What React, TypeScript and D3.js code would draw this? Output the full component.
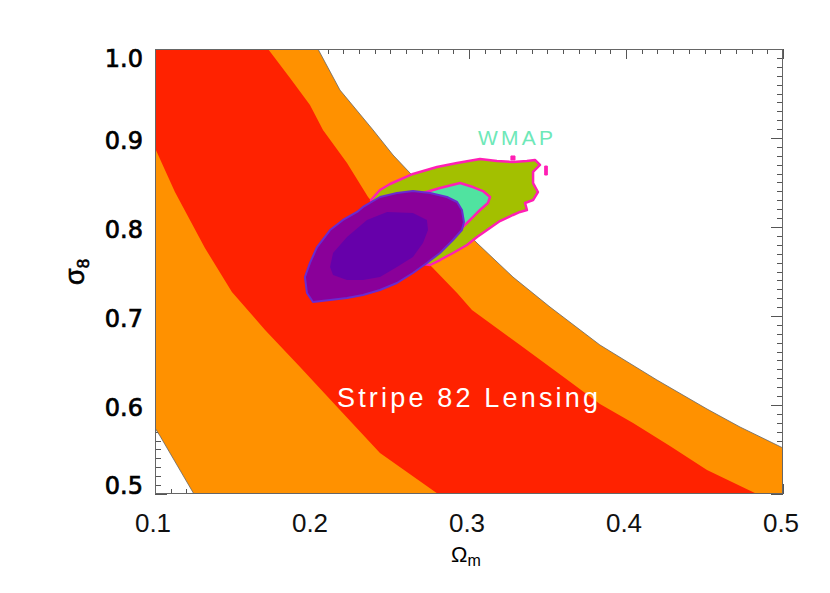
import React from 'react';
import * as d3 from 'd3';

type P = [number, number];

const W = 830;
const H = 593;
const PLOT = { left: 155, top: 49, right: 783, bottom: 494 };

const X_DOMAIN: P = [0.1, 0.5];
const Y_DOMAIN: P = [0.5, 1.0];
const xTickLabels = [0.1, 0.2, 0.3, 0.4, 0.5];
const yTickLabels = [0.5, 0.6, 0.7, 0.8, 0.9, 1.0];

// Stripe 82 lensing, 95% region: upper-right edge and lower-left edge
const lensOuterUpper: P[] = [
  [0.2038, 1.0], [0.2178, 0.9539], [0.2389, 0.909], [0.2516, 0.8809], [0.2624, 0.8607],
  [0.2815, 0.8247], [0.3051, 0.782], [0.328, 0.7438], [0.3516, 0.7101], [0.3834, 0.6674],
  [0.4197, 0.6281], [0.4516, 0.5955], [0.4726, 0.5753], [0.5, 0.5517],
];
const lensOuterLower: P[] = [
  [0.1, 0.5742], [0.1032, 0.5652], [0.1248, 0.5],
];
// Stripe 82 lensing, 68% region
const lensInnerUpper: P[] = [
  [0.172, 1.0], [0.186, 0.9674], [0.1987, 0.9371], [0.207, 0.909], [0.2223, 0.8719],
  [0.2357, 0.8337], [0.2561, 0.791], [0.2764, 0.7551], [0.2924, 0.7258], [0.3019, 0.7067],
  [0.3325, 0.6674], [0.3611, 0.6303], [0.3834, 0.6011], [0.4045, 0.5798], [0.428, 0.5539],
  [0.4516, 0.527], [0.4834, 0.5],
];
const lensInnerLower: P[] = [
  [0.1, 0.8888], [0.1127, 0.8393], [0.1318, 0.7764], [0.149, 0.727], [0.1701, 0.6843],
  [0.1924, 0.6427], [0.2178, 0.5944], [0.2433, 0.5461], [0.2803, 0.5],
];

// WMAP contours
const wmapOuter: P[] = [
  [0.2376, 0.8303], [0.2433, 0.8416], [0.2497, 0.8483], [0.2643, 0.8596], [0.2796, 0.8674],
  [0.2924, 0.8719], [0.307, 0.8764], [0.3178, 0.8742], [0.328, 0.873], [0.3369, 0.8742],
  [0.342, 0.8753], [0.3452, 0.8697], [0.3408, 0.8618], [0.3408, 0.8494], [0.3439, 0.8393],
  [0.3408, 0.8303], [0.3357, 0.827], [0.3369, 0.8191], [0.3325, 0.8169], [0.328, 0.8135],
  [0.3197, 0.8067], [0.3115, 0.7966], [0.3051, 0.7888], [0.2987, 0.7798], [0.2898, 0.7708],
  [0.2815, 0.7629], [0.2752, 0.7573], [0.2624, 0.7607], [0.2497, 0.7798], [0.2401, 0.8079],
];
const wmapIslandA: P[] = [[0.3267, 0.8798], [0.3293, 0.8798], [0.3293, 0.8753], [0.3267, 0.8753]];
const wmapIslandB: P[] = [[0.3482, 0.8685], [0.3499, 0.8685], [0.3499, 0.8584], [0.3482, 0.8584]];
const wmapInner: P[] = [
  [0.2707, 0.8382], [0.2815, 0.8438], [0.2943, 0.8494], [0.3025, 0.8449], [0.3089, 0.8404],
  [0.3134, 0.8337], [0.3121, 0.827], [0.307, 0.8191], [0.3025, 0.8112], [0.2987, 0.8045],
  [0.2955, 0.7989], [0.2847, 0.791], [0.272, 0.8022], [0.2656, 0.8247],
];

// Combined contours
const combOuter: P[] = [
  [0.2325, 0.8225], [0.2433, 0.8337], [0.2541, 0.8382], [0.2643, 0.8404], [0.2752, 0.8382],
  [0.286, 0.8337], [0.2924, 0.8281], [0.2955, 0.8191], [0.2968, 0.8056], [0.2955, 0.7966],
  [0.2898, 0.7854], [0.2815, 0.7708], [0.2732, 0.7596], [0.2643, 0.7483], [0.2541, 0.7371],
  [0.2433, 0.7292], [0.2325, 0.7236], [0.2223, 0.7202], [0.2115, 0.718], [0.2006, 0.7157],
  [0.1968, 0.7258], [0.1955, 0.7438], [0.1987, 0.7596], [0.2032, 0.7775], [0.2115, 0.7966],
  [0.2197, 0.8079], [0.2287, 0.8169],
];
const combInner: P[] = [
  [0.2115, 0.7551], [0.2134, 0.7708], [0.2223, 0.7888], [0.235, 0.8079], [0.2478, 0.8169],
  [0.2643, 0.8157], [0.2732, 0.8079], [0.2739, 0.7966], [0.2707, 0.782], [0.2643, 0.7663],
  [0.2541, 0.7551], [0.2433, 0.7438], [0.2325, 0.7404], [0.2223, 0.7404], [0.2134, 0.7461],
];

const COLORS = {
  orange: '#ff9100',
  red: '#ff2200',
  green: '#a3c000',
  aqua: '#50e3a0',
  magenta: '#ff1fb4',
  purple: '#8a0099',
  violet: '#6600aa',
  purpleEdge: '#6a2bd0',
  wmapText: '#6ee8b8',
};

export default function App() {
  const x = d3.scaleLinear().domain(X_DOMAIN).range([PLOT.left, PLOT.right]);
  const y = d3.scaleLinear().domain(Y_DOMAIN).range([PLOT.bottom, PLOT.top]);
  const line = d3.line<P>().x((d) => x(d[0])).y((d) => y(d[1])).curve(d3.curveLinear);
  const closed = (pts: P[]) => (line(pts) || '') + 'Z';

  const [xMin, xMax] = X_DOMAIN;
  const [yMin, yMax] = Y_DOMAIN;

  const orangePoly: P[] = [
    ...lensOuterUpper,
    [xMax, yMin],
    ...[...lensOuterLower].reverse(),
    [xMin, yMax],
  ];
  const redPoly: P[] = [
    ...lensInnerUpper,
    ...[...lensInnerLower].reverse(),
    [xMin, yMax],
  ];

  const xMinor = d3.range(0, 41).map((i) => xMin + i * 0.01);
  const yMinor = d3.range(0, 51).map((i) => yMin + i * 0.01);
  const isMajor = (v: number) => Math.abs(v * 10 - Math.round(v * 10)) < 1e-6;

  const tickColor = '#555';

  return (
    <svg
      width={W}
      height={H}
      style={{ position: 'absolute', left: 0, top: 0, background: '#fff' }}
      fontFamily="'Liberation Sans', Arial, Helvetica, sans-serif"
    >
      <defs>
        <clipPath id="plotClip">
          <rect x={PLOT.left} y={PLOT.top} width={PLOT.right - PLOT.left} height={PLOT.bottom - PLOT.top} />
        </clipPath>
      </defs>

      {/* ticks (drawn beneath fills) */}
      <g stroke={tickColor} strokeWidth={1}>
        {xMinor.map((v, i) => {
          const len = isMajor(v) ? 10 : 5;
          const px = Math.round(x(v)) + 0.5;
          return (
            <g key={'xt' + i}>
              <line x1={px} x2={px} y1={PLOT.bottom} y2={PLOT.bottom - len} />
              <line x1={px} x2={px} y1={PLOT.top} y2={PLOT.top + len} />
            </g>
          );
        })}
        {yMinor.map((v, i) => {
          const len = isMajor(v) ? 12 : 6;
          const py = Math.round(y(v)) + 0.5;
          return (
            <g key={'yt' + i}>
              <line x1={PLOT.left} x2={PLOT.left + len} y1={py} y2={py} />
              <line x1={PLOT.right} x2={PLOT.right - len} y1={py} y2={py} />
            </g>
          );
        })}
      </g>

      <g clipPath="url(#plotClip)">
        <path d={closed(orangePoly)} fill={COLORS.orange} stroke="#666" strokeWidth={0.8} />
        <path d={closed(redPoly)} fill={COLORS.red} />
        <path d={closed(wmapOuter)} fill={COLORS.green} stroke={COLORS.magenta} strokeWidth={2.5} strokeLinejoin="round" />
        <path d={closed(wmapIslandA)} fill={COLORS.magenta} stroke={COLORS.magenta} strokeWidth={1} />
        <path d={closed(wmapIslandB)} fill={COLORS.magenta} stroke={COLORS.magenta} strokeWidth={1} />
        <path d={closed(wmapInner)} fill={COLORS.aqua} stroke={COLORS.magenta} strokeWidth={2.5} strokeLinejoin="round" />
        <path d={closed(combOuter)} fill={COLORS.purple} stroke={COLORS.purpleEdge} strokeWidth={2} strokeLinejoin="round" />
        <path d={closed(combInner)} fill={COLORS.violet} />
      </g>

      {/* frame */}
      <rect
        x={PLOT.left + 0.5}
        y={PLOT.top + 0.5}
        width={PLOT.right - PLOT.left - 1}
        height={PLOT.bottom - PLOT.top - 1}
        fill="none"
        stroke="#666"
        strokeWidth={1}
      />

      {/* tick labels */}
      {yTickLabels.map((v) => (
        <text
          key={'yl' + v}
          x={143}
          y={Math.min(Math.max(y(v) + 3, PLOT.top + 10), PLOT.bottom - 8)}
          textAnchor="end"
          dominantBaseline="central"
          fontSize={24}
          fontFamily="'DejaVu Sans', Verdana, sans-serif"
          fill="#000"
          stroke="#000"
          strokeWidth={0.7}
        >
          {v.toFixed(1)}
        </text>
      ))}
      {xTickLabels.map((v) => (
        <text key={'xl' + v} x={x(v) - 2} y={532} textAnchor="middle" fontSize={26} fill="#111">
          {v.toFixed(1)}
        </text>
      ))}

      {/* axis titles */}
      <text x={451} y={562} fontSize={22} fill="#000">
        Ω<tspan fontSize={16} dy={4}>m</tspan>
      </text>
      <text transform="translate(84,285) rotate(-90)" fontSize={27} fill="#000" stroke="#000" strokeWidth={0.6}>
        σ<tspan fontSize={17} dy={5}>8</tspan>
      </text>

      {/* annotations */}
      <text x={337} y={407} fontSize={27} fill="#fff" textLength={261} lengthAdjust="spacing">
        Stripe 82 Lensing
      </text>
      <text x={478} y={145} fontSize={21} fill={COLORS.wmapText} textLength={75} lengthAdjust="spacing">
        WMAP
      </text>
    </svg>
  );
}
